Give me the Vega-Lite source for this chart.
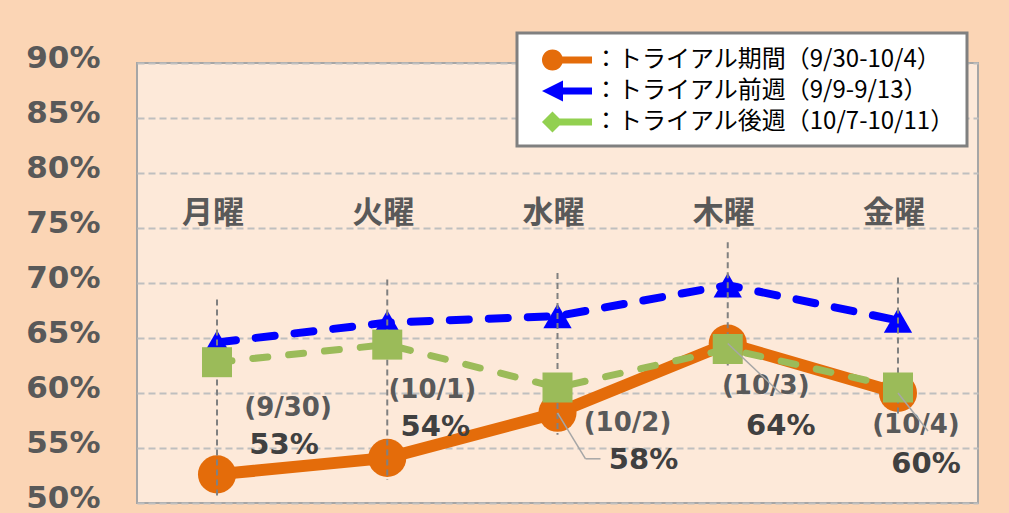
{
  "$schema": "https://vega.github.io/schema/vega-lite/v6.json",
  "width": 841,
  "height": 440,
  "autosize": {"type": "none"},
  "padding": {"left": 137, "top": 63, "right": 31, "bottom": 10},
  "background": "#FBD5B5",
  "config": {
    "view": {"fill": "#FDE9D9", "stroke": "#A6A6A6", "strokeWidth": 2}
  },
  "datasets": {
    "days": [
      {"day": "月曜", "date": "(9/30)", "label": "53%", "trial": 0.526, "prev": 0.646, "next": 0.628},
      {"day": "火曜", "date": "(10/1)", "label": "54%", "trial": 0.541, "prev": 0.664, "next": 0.644},
      {"day": "水曜", "date": "(10/2)", "label": "58%", "trial": 0.582, "prev": 0.670, "next": 0.605},
      {"day": "木曜", "date": "(10/3)", "label": "64%", "trial": 0.645, "prev": 0.698, "next": 0.640},
      {"day": "金曜", "date": "(10/4)", "label": "60%", "trial": 0.600, "prev": 0.666, "next": 0.605}
    ],
    "series": [
      {"series": "トライアル期間（9/30-10/4）"},
      {"series": "トライアル前週（9/9-9/13）"},
      {"series": "トライアル後週（10/7-10/11）"}
    ]
  },
  "data": {"name": "days"},
  "encoding": {
    "x": {
      "field": "day",
      "type": "ordinal",
      "scale": {"type": "point", "domain": ["月曜", "火曜", "水曜", "木曜", "金曜"], "padding": 0.47},
      "axis": null
    }
  },
  "layer": [
    {
      "mark": {"type": "line", "color": "#E46C0A", "strokeWidth": 12, "strokeJoin": "round"},
      "encoding": {
        "y": {
          "field": "trial",
          "type": "quantitative",
          "title": null,
          "scale": {"domain": [0.5, 0.9]},
          "axis": {
            "title": null,
            "values": [0.5, 0.55, 0.6, 0.65, 0.7, 0.75, 0.8, 0.85, 0.9],
            "format": ".0%",
            "ticks": false,
            "domain": false,
            "labelFont": "DejaVu Sans",
            "labelFontSize": 31,
            "labelFontWeight": "bold",
            "labelColor": "#595959",
            "labelPadding": 37,
            "labelOffset": -5,
            "gridColor": "#BFBFBF",
            "gridDash": [7, 4],
            "gridWidth": 2
          }
        }
      }
    },
    {
      "mark": {"type": "point", "shape": "circle", "filled": true, "size": 1450, "color": "#E46C0A", "opacity": 1},
      "encoding": {"y": {"field": "trial", "type": "quantitative", "title": null}}
    },
    {
      "mark": {"type": "line", "color": "#0000FF", "strokeWidth": 8, "strokeDash": [19, 20], "strokeCap": "round"},
      "encoding": {"y": {"field": "prev", "type": "quantitative", "title": null}}
    },
    {
      "mark": {"type": "point", "shape": "triangle-up", "filled": true, "size": 800, "color": "#0000FF", "opacity": 1},
      "encoding": {"y": {"field": "prev", "type": "quantitative", "title": null}}
    },
    {
      "mark": {"type": "rule", "color": "#808080", "strokeWidth": 2, "strokeDash": [6, 4], "yOffset": -43, "y2Offset": 22},
      "encoding": {
        "y": {"field": "prev", "type": "quantitative", "title": null},
        "y2": {"field": "trial"}
      }
    },
    {
      "mark": {"type": "line", "color": "#9BBB59", "strokeWidth": 7, "strokeDash": [15, 21], "strokeCap": "round"},
      "encoding": {"y": {"field": "next", "type": "quantitative", "title": null}}
    },
    {
      "mark": {"type": "point", "shape": "square", "filled": true, "size": 900, "color": "#9BBB59", "opacity": 1},
      "encoding": {"y": {"field": "next", "type": "quantitative", "title": null}}
    },
    {
      "mark": {"type": "text", "font": "Noto Sans CJK JP", "fontSize": 31, "fontWeight": "bold", "color": "#595959", "dx": -4},
      "encoding": {
        "y": {"datum": 0.763, "type": "quantitative", "title": null},
        "text": {"field": "day"}
      }
    },
    {
      "transform": [{"filter": "datum.day === '月曜'"}],
      "layer": [
        {
          "mark": {"type": "text", "font": "DejaVu Sans", "fontSize": 26, "fontWeight": "bold", "color": "#595959", "dx": 71, "dy": -66},
          "encoding": {"y": {"field": "trial", "type": "quantitative", "title": null}, "text": {"field": "date"}}
        },
        {
          "mark": {"type": "text", "font": "DejaVu Sans", "fontSize": 29, "fontWeight": "bold", "color": "#404040", "dx": 67, "dy": -29},
          "encoding": {"y": {"field": "trial", "type": "quantitative", "title": null}, "text": {"field": "label"}}
        }
      ]
    },
    {
      "transform": [{"filter": "datum.day === '火曜'"}],
      "layer": [
        {
          "mark": {"type": "text", "font": "DejaVu Sans", "fontSize": 26, "fontWeight": "bold", "color": "#595959", "dx": 45, "dy": -68},
          "encoding": {"y": {"field": "trial", "type": "quantitative", "title": null}, "text": {"field": "date"}}
        },
        {
          "mark": {"type": "text", "font": "DejaVu Sans", "fontSize": 29, "fontWeight": "bold", "color": "#404040", "dx": 48, "dy": -31},
          "encoding": {"y": {"field": "trial", "type": "quantitative", "title": null}, "text": {"field": "label"}}
        }
      ]
    },
    {
      "transform": [{"filter": "datum.day === '水曜'"}],
      "layer": [
        {
          "mark": {"type": "rule", "color": "#A6A6A6", "strokeWidth": 1.5, "x2Offset": 28, "y2Offset": 46},
          "encoding": {
            "y": {"field": "trial", "type": "quantitative", "title": null},
            "x2": {"field": "day"},
            "y2": {"field": "trial"}
          }
        },
        {
          "mark": {"type": "rule", "color": "#A6A6A6", "strokeWidth": 1.5, "xOffset": 28, "x2Offset": 43, "yOffset": 46},
          "encoding": {
            "y": {"field": "trial", "type": "quantitative", "title": null},
            "x2": {"field": "day"}
          }
        },
        {
          "mark": {"type": "text", "font": "DejaVu Sans", "fontSize": 26, "fontWeight": "bold", "color": "#595959", "dx": 70, "dy": 10},
          "encoding": {"y": {"field": "trial", "type": "quantitative", "title": null}, "text": {"field": "date"}}
        },
        {
          "mark": {"type": "text", "font": "DejaVu Sans", "fontSize": 29, "fontWeight": "bold", "color": "#404040", "dx": 86, "dy": 47},
          "encoding": {"y": {"field": "trial", "type": "quantitative", "title": null}, "text": {"field": "label"}}
        }
      ]
    },
    {
      "transform": [{"filter": "datum.day === '木曜'"}],
      "layer": [
        {
          "mark": {"type": "text", "font": "DejaVu Sans", "fontSize": 26, "fontWeight": "bold", "color": "#595959", "dx": 38, "dy": 42},
          "encoding": {"y": {"field": "trial", "type": "quantitative", "title": null}, "text": {"field": "date"}}
        },
        {
          "mark": {"type": "text", "font": "DejaVu Sans", "fontSize": 29, "fontWeight": "bold", "color": "#404040", "dx": 53, "dy": 82},
          "encoding": {"y": {"field": "trial", "type": "quantitative", "title": null}, "text": {"field": "label"}}
        },
        {
          "mark": {"type": "rule", "color": "#A6A6A6", "strokeWidth": 1.5, "x2Offset": 53, "y2Offset": 50},
          "encoding": {
            "y": {"field": "trial", "type": "quantitative", "title": null},
            "x2": {"field": "day"},
            "y2": {"field": "trial"}
          }
        }
      ]
    },
    {
      "transform": [{"filter": "datum.day === '金曜'"}],
      "layer": [
        {
          "mark": {"type": "text", "font": "DejaVu Sans", "fontSize": 26, "fontWeight": "bold", "color": "#595959", "dx": 18, "dy": 32},
          "encoding": {"y": {"field": "trial", "type": "quantitative", "title": null}, "text": {"field": "date"}}
        },
        {
          "mark": {"type": "text", "font": "DejaVu Sans", "fontSize": 29, "fontWeight": "bold", "color": "#404040", "dx": 28, "dy": 71},
          "encoding": {"y": {"field": "trial", "type": "quantitative", "title": null}, "text": {"field": "label"}}
        },
        {
          "mark": {"type": "rule", "color": "#A6A6A6", "strokeWidth": 1.5, "x2Offset": 30, "y2Offset": 38},
          "encoding": {
            "y": {"field": "trial", "type": "quantitative", "title": null},
            "x2": {"field": "day"},
            "y2": {"field": "trial"}
          }
        }
      ]
    },
    {
      "data": {"name": "series"},
      "transform": [{"filter": "false"}],
      "mark": {"type": "point", "filled": true, "opacity": 1},
      "encoding": {
        "x": {"field": "series", "type": "nominal", "axis": null},
        "color": {
          "field": "series",
          "type": "nominal",
          "scale": {
            "domain": ["トライアル期間（9/30-10/4）", "トライアル前週（9/9-9/13）", "トライアル後週（10/7-10/11）"],
            "range": ["#E46C0A", "#0000FF", "#92D050"]
          },
          "legend": {
            "orient": "none",
            "legendX": 380,
            "legendY": -30,
            "title": null,
            "fillColor": "#FFFFFF",
            "strokeColor": "#808080",
            "padding": 12,
            "symbolSize": 900,
            "symbolStrokeWidth": 0,
            "symbolOpacity": 1,
            "symbolOffset": 23,
            "labelFont": "Noto Sans CJK JP",
            "labelFontSize": 24,
            "labelColor": "#000000",
            "labelOffset": 12,
            "labelLimit": 600,
            "rowPadding": 4,
            "labelExpr": "'：' + datum.label",
            "encode": {"legend": {"update": {"strokeWidth": {"value": 3}}}}
          }
        },
        "shape": {
          "field": "series",
          "type": "nominal",
          "scale": {
            "domain": ["トライアル期間（9/30-10/4）", "トライアル前週（9/9-9/13）", "トライアル後週（10/7-10/11）"],
            "range": [
              "M-1.667,0 A0.7,0.7 0 1,1 -0.267,0 A0.7,0.7 0 1,1 -1.667,0 Z M-0.967,-0.233 L1.667,-0.233 L1.667,0.233 L-0.967,0.233 Z",
              "M-1.667,0 L-0.267,-0.7 L-0.267,0.7 Z M-0.3,-0.233 L1.667,-0.233 L1.667,0.233 L-0.3,0.233 Z",
              "M-1.667,0 L-0.967,-0.7 L-0.267,0 L-0.967,0.7 Z M-0.967,-0.233 L1.667,-0.233 L1.667,0.233 L-0.967,0.233 Z"
            ]
          },
          "legend": {
            "orient": "none",
            "legendX": 380,
            "legendY": -30,
            "title": null,
            "fillColor": "#FFFFFF",
            "strokeColor": "#808080",
            "padding": 12,
            "symbolSize": 900,
            "symbolStrokeWidth": 0,
            "symbolOpacity": 1,
            "symbolOffset": 23,
            "labelFont": "Noto Sans CJK JP",
            "labelFontSize": 24,
            "labelColor": "#000000",
            "labelOffset": 12,
            "labelLimit": 600,
            "rowPadding": 4,
            "labelExpr": "'：' + datum.label",
            "encode": {"legend": {"update": {"strokeWidth": {"value": 3}}}}
          }
        }
      }
    }
  ]
}
